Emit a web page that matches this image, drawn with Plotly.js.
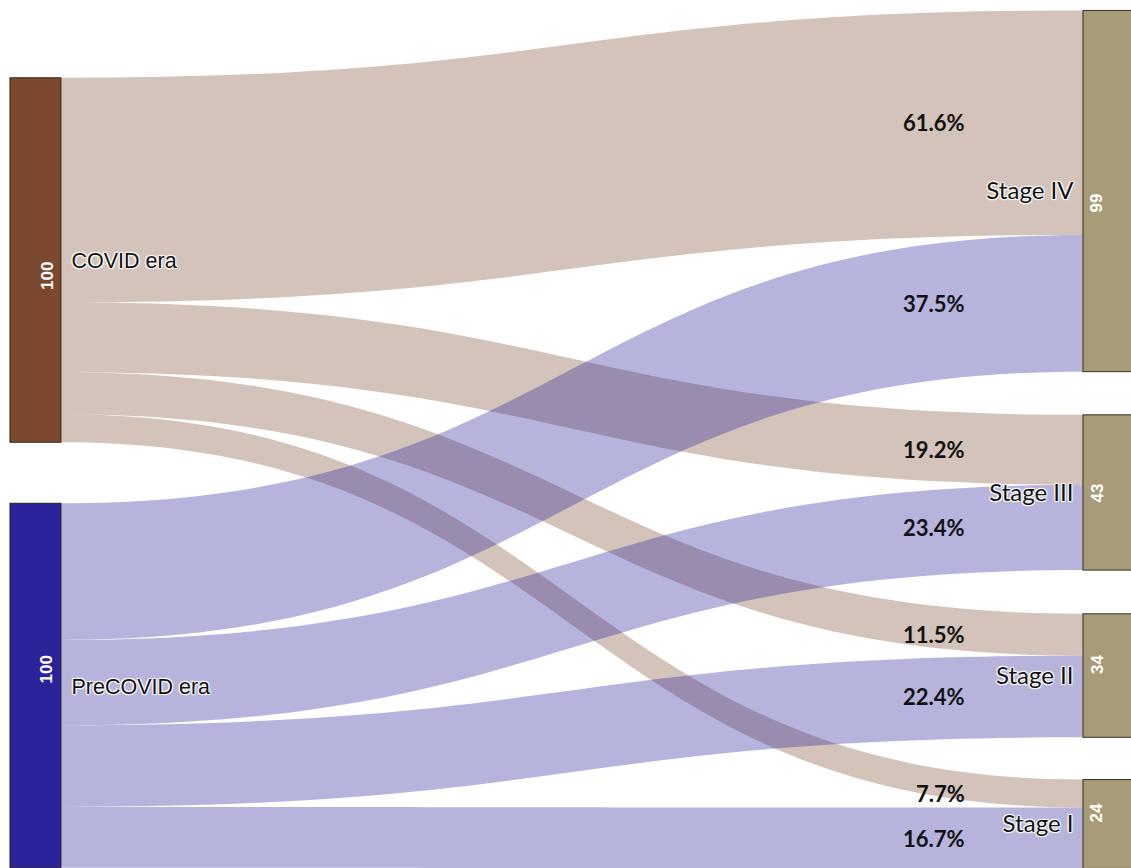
<!DOCTYPE html>
<html>
<head>
<meta charset="utf-8">
<script src="https://cdn.plot.ly/plotly-3.0.1.min.js"></script>
<style>
  html, body { margin: 0; padding: 0; background: #ffffff; }
  #chart { width: 1131px; height: 868px; }
</style>
</head>
<body>
<div id="chart"></div>
<script>
// ---- data ----
var nodeLabels = ['COVID era', 'PreCOVID era', 'Stage IV', 'Stage III', 'Stage II', 'Stage I'];
var nodeColors = ['#7b4a2e', '#2a2399', '#a89b78', '#a89b78', '#a89b78', '#a89b78'];
var linkSource = [0, 0, 0, 0, 1, 1, 1, 1];
var linkTarget = [2, 3, 4, 5, 2, 3, 4, 5];
var linkValue  = [61.6, 19.2, 11.5, 7.7, 37.5, 23.4, 22.4, 16.7];
var linkColors = ['rgba(123,74,46,0.33)', 'rgba(42,35,153,0.34)'];

var gd = document.getElementById('chart');

var trace = {
  type: 'sankey',
  orientation: 'h',
  arrangement: 'fixed',
  hoverinfo: 'none',
  node: {
    label: nodeLabels,
    color: nodeColors,
    pad: 43,
    thickness: 51,
    // node centre placement (fraction of the sankey domain)
    x: [0.0227, 0.0227, 0.9799, 0.9799, 0.9799, 0.9799],
    y: [0.2914, 0.7873, 0.2110, 0.5623, 0.7757, 0.9487],
    line: { color: 'rgba(30,20,10,0.85)', width: 1 },
    hoverinfo: 'none'
  },
  link: {
    source: linkSource,
    target: linkTarget,
    value: linkValue,
    color: linkSource.map(function (s) { return linkColors[s]; }),
    hoverinfo: 'none'
  },
  textfont: { family: 'Lato, sans-serif', size: 24, color: '#111111' }
};

var layout = {
  width: 1131,
  height: 868,
  margin: { l: 10, r: 0, t: 10, b: 0 },
  paper_bgcolor: '#ffffff',
  plot_bgcolor: '#ffffff',
  font: { family: 'Lato, sans-serif', color: '#111111' },
  showlegend: false
};

function tweakLabels() {
  var W = gd._fullLayout._size.w;
  gd.querySelectorAll('.sankey-node').forEach(function (el) {
    var d = el.__data__;
    if (!d || !d.node) return;
    var t = el.querySelector('text');
    if (!t) return;
    var tr = t.getAttribute('transform') || '';
    if (d.node.x0 < W / 2) {
      t.style.fontFamily = 'Liberation Sans, Arial, sans-serif';
      t.style.fontSize = '21.5px';
      t.setAttribute('transform', tr + ' translate(7,0)');
    } else {
      t.setAttribute('transform', tr + ' translate(-6,0)');
    }
  });
}

Plotly.newPlot(gd, [trace], layout, { displayModeBar: false }).then(function () {
  var W = gd._fullLayout._size.w, H = gd._fullLayout._size.h;
  var anns = [];
  gd.querySelectorAll('.sankey-node').forEach(function (el) {
    var d = el.__data__;
    if (!d || !d.node) return;
    var n = d.node;
    anns.push({
      xref: 'paper', yref: 'paper',
      x: (n.x0 + n.x1) / 2 / W,
      y: 1 - (n.y0 + n.y1) / 2 / H,
      text: String(Math.round(n.value)),
      textangle: -90,
      showarrow: false,
      font: { family: 'Liberation Sans, Arial, sans-serif', size: 17, color: '#ffffff', weight: 700 }
    });
    (n.targetLinks || []).forEach(function (lk) {
      anns.push({
        xref: 'paper', yref: 'paper',
        x: (n.x0 - 116) / W,
        y: 1 - lk.y1 / H,
        xanchor: 'right',
        yanchor: 'middle',
        text: lk.value.toFixed(1) + '%',
        showarrow: false,
        font: { family: 'Lato, sans-serif', size: 22, color: '#111111', weight: 700 }
      });
    });
  });
  return Plotly.relayout(gd, { annotations: anns });
}).then(tweakLabels);
</script>
</body>
</html>
